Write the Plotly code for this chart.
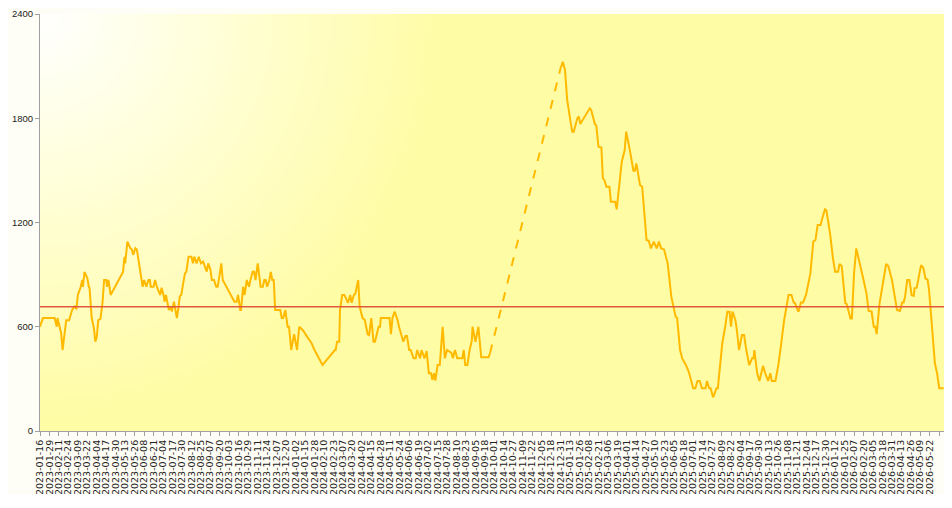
import numpy as np
import pandas as pd
import plotly.graph_objects as go

start_date = "2023-01-16"

# Series before the data gap: day offsets from start_date and values
days_a = [0, 4, 20, 23, 24, 29, 31, 36, 40, 44,
          48, 50, 52, 56, 58, 59, 61, 65, 67, 68,
          71, 74, 76, 78, 80, 83, 86, 88, 91, 92,
          94, 97, 114, 116, 117, 120, 124, 126, 128, 131,
          133, 135, 138, 141, 143, 146, 149, 151, 152, 156,
          158, 161, 165, 167, 170, 171, 173, 177, 180, 181,
          184, 188, 190, 192, 194, 199, 201, 204, 208, 210,
          212, 215, 218, 221, 224, 226, 229, 231, 234,
          236, 239, 242, 244, 247, 249, 251, 267, 270, 272, 275,
          276, 279, 281, 284, 287, 289, 292, 294, 296, 299,
          301, 303, 306, 308, 310, 312, 315, 317, 319, 321,
          323, 330, 332, 334, 337, 340, 342, 345, 349, 353,
          356, 361, 367, 373, 377, 388, 405, 406, 408, 411,
          412, 415, 418, 422, 423, 426, 428, 431, 433, 437,
          439, 443, 446, 450, 452, 455, 458, 460, 462, 465,
          467, 468, 480, 482, 484, 487, 491,
          493, 499, 502, 504, 507, 509, 513, 516, 518, 522, 524, 528, 531,
          534, 537, 539, 541, 543, 546, 549, 553, 556, 559,
          565, 567, 570, 573, 580, 582, 584, 587, 590, 593,
          594, 598, 602, 604, 606, 616, 618]
values_a = [600, 650, 650, 600, 650, 564, 466, 638, 638, 696,
            720, 700, 783, 830, 870, 830, 915, 880, 830, 825,
            650, 593, 514, 542, 638, 645, 744, 869, 869, 830,
            869, 783, 915, 1003, 965, 1090, 1052, 1045, 1014, 1052,
            1045, 995, 907, 830, 869, 830, 869, 869, 830, 830,
            869, 825, 783, 825, 776, 744, 783, 696, 715, 687,
            744, 650, 705, 776, 783, 907, 917, 1003, 1003, 965,
            1003, 965, 1003, 965, 975, 955, 917, 965, 930,
            869, 869, 830, 830, 907, 965, 869, 744, 744, 783, 696,
            696, 830, 783, 869, 830, 869, 917, 917, 869, 965,
            907, 830, 830, 869, 869, 830, 869, 915, 869, 869,
            696, 696, 650, 650, 696, 600, 600, 466, 557, 466,
            600, 580, 542, 505, 466, 380, 466, 466, 514, 514,
            696, 783, 783, 738, 738, 783, 738, 783, 790, 869,
            715, 650, 640, 557, 553, 650, 514, 514, 557, 600,
            600, 650, 650, 557, 650, 687, 640,
            600, 514, 547, 547, 466, 466, 418, 418, 466, 418, 466, 418, 460,
            332, 332, 293, 332, 290, 380, 380, 600, 418, 466,
            450, 418, 466, 418, 418, 466, 380, 380, 466, 520,
            600, 514, 600, 514, 424, 424, 447]

# Series after the data gap
days_b = [715, 718, 721, 724, 729, 731, 733, 738, 740, 742, 755, 757, 762,
          764, 767, 771, 773, 775, 778, 782, 784, 790, 792,
          795, 799, 803, 805, 810, 815, 817, 819, 824, 827,
          833, 836, 839, 843, 847, 850, 853, 857, 862, 867, 873, 875,
          879, 882, 887, 891, 894, 897, 900, 903,
          906, 909, 914, 916, 919, 921, 924, 925, 929, 931,
          932, 937, 941, 944, 947, 949, 951, 955, 957, 960,
          964, 967, 970, 974, 978, 980, 981, 984, 985, 988,
          990, 993, 996, 999, 1000, 1003, 1005, 1010, 1014, 1018,
          1022, 1028, 1032, 1035, 1037, 1041, 1042, 1045, 1048, 1052, 1054, 1058, 1062,
          1065, 1068, 1072, 1075, 1078, 1080, 1085, 1089, 1092, 1096, 1098, 1101,
          1106, 1108, 1113, 1115, 1118, 1121, 1126, 1130, 1135, 1138,
          1142, 1145, 1147, 1149, 1153, 1156, 1160, 1162, 1165, 1170,
          1177, 1181, 1184, 1186, 1188, 1191, 1194, 1197, 1200, 1201,
          1204, 1207, 1210, 1213, 1216, 1219, 1221, 1225, 1229, 1232, 1235, 1241]
values_b = [2089, 2125, 2078, 1905, 1771, 1723, 1723, 1800, 1810, 1767, 1857, 1848, 1767,
            1757, 1636, 1632, 1454, 1445, 1406, 1406, 1320, 1320, 1276,
            1406, 1550, 1617, 1723, 1617, 1498, 1498, 1540, 1416, 1406,
            1099, 1095, 1051, 1090, 1051, 1090, 1051, 1045, 965, 773, 658, 650,
            466, 418, 380, 341, 293, 246, 246, 288,
            288, 246, 246, 288, 246, 246, 198, 198, 246, 246,
            293, 505, 600, 687, 687, 600, 687, 639, 582, 466,
            552, 552, 466, 380, 418, 418, 466, 332, 332, 288,
            332, 375, 332, 288, 288, 332, 288, 288, 380, 505,
            639, 783, 783, 740, 735, 691, 691, 740, 740, 783, 821, 907, 1090,
            1099, 1186, 1186, 1234, 1276, 1270, 1138, 994, 917, 917, 961, 950,
            735, 730, 648, 648, 907, 1051, 965, 888, 792, 691,
            688, 600, 600, 558, 735, 811, 907, 961, 950, 869,
            696, 691, 740, 740, 773, 869, 869, 783, 778, 821,
            825, 888, 955, 940, 878, 870, 811, 600, 390, 332, 246, 246]

average_value = 715
y_ticks = [0, 600, 1200, 1800, 2400]
tick_start, tick_end, tick_step_days = "2023-01-16", "2026-06-04", 13

start = pd.Timestamp(start_date)
x_a = start + pd.to_timedelta(days_a, unit="D")
x_b = start + pd.to_timedelta(days_b, unit="D")
x_end = start + pd.Timedelta(days=1241.5)

tickvals = pd.date_range(tick_start, tick_end, freq=f"{tick_step_days}D")
ticktext = [d.strftime("%Y-%m-%d") for d in tickvals]

fig = go.Figure()

# background gradient (white top-left corner fading to pale yellow)
W, H = 904.0, 417.0
gxf = np.linspace(-0.02, 1.02, 70)
gyf = np.linspace(-0.03, 1.03, 36)
PX = gxf * W
PY = (1 - gyf) * H
D = np.sqrt(PX[None, :] ** 2 + PY[:, None] ** 2)
Z = np.clip(D / 400.0, 0, 1)
gx_dates = start + pd.to_timedelta(gxf * 1241.5, unit="D")
fig.add_trace(go.Heatmap(
    x=gx_dates, y=gyf * 2400, z=Z, zsmooth="best", showscale=False,
    colorscale=[[0, "#FFFFFF"], [0.35, "#FFFFE0"], [1, "#FFFCA6"]],
    zmin=0, zmax=1, hoverinfo="skip"))

line_color = "#FFBA00"
fig.add_trace(go.Scatter(x=x_a, y=values_a, mode="lines",
                         line=dict(color=line_color, width=2), showlegend=False))
fig.add_trace(go.Scatter(x=[x_a[-1], x_b[0]], y=[values_a[-1], values_b[0]], mode="lines",
                         line=dict(color=line_color, width=2, dash="dash"), showlegend=False))
fig.add_trace(go.Scatter(x=x_b, y=values_b, mode="lines",
                         line=dict(color=line_color, width=2), showlegend=False))
fig.add_trace(go.Scatter(x=[start, x_end], y=[average_value, average_value], mode="lines",
                         line=dict(color="#E0583E", width=1.5), showlegend=False))

# page body adds an 8px offset, so the figure is sized to fit inside the window
fig.update_layout(
    width=936, height=486,
    margin=dict(l=32, r=0, t=6, b=63, pad=0),
    paper_bgcolor="#FFFEF6", plot_bgcolor="#FFFCA6",
    font=dict(family="Liberation Sans, Arial, sans-serif", color="#222222"),
    showlegend=False,
)
fig.update_xaxes(
    type="date", range=[start, x_end], automargin=False,
    tickmode="array", tickvals=tickvals, ticktext=ticktext, tickangle=-90,
    tickfont=dict(size=9.5, family="DejaVu Sans"),
    ticks="outside", ticklen=4, tickcolor="#A0A0A0",
    showline=True, linecolor="#A0A0A0", linewidth=1,
    showgrid=False, zeroline=False,
)
fig.update_yaxes(
    range=[0, 2400], tickmode="array", tickvals=y_ticks, automargin=False,
    tickfont=dict(size=9.5),
    ticks="outside", ticklen=4, tickcolor="#A0A0A0",
    showline=True, linecolor="#A0A0A0", linewidth=1,
    showgrid=False, zeroline=False,
)

fig.write_html("out.html")
